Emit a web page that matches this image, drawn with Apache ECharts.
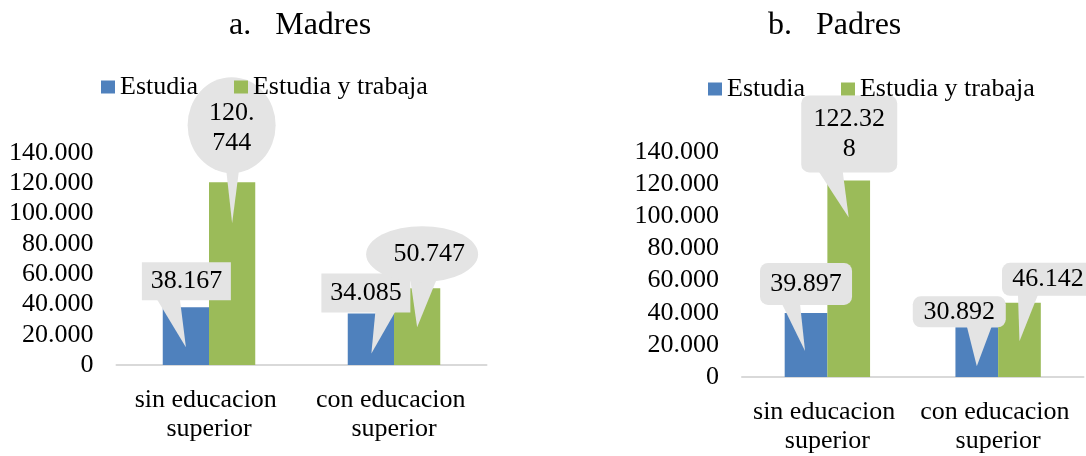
<!DOCTYPE html>
<html>
<head>
<meta charset="utf-8">
<script src="https://cdn.jsdelivr.net/npm/echarts@6/dist/echarts.min.js"></script>
<style>
  html, body { margin: 0; padding: 0; background: #fff; }
  #chart { width: 1086px; height: 456px; }
</style>
</head>
<body>
<div id="chart"></div>
<script>
var categories = ["sin educacion superior", "con educacion superior"];
var seriesNames = ["Estudia", "Estudia y trabaja"];
var madresEstudia = [38167, 34085];
var madresTrabaja = [120744, 50747];
var padresEstudia = [39897, 30892];
var padresTrabaja = [122328, 46142];
var yTicks = [0, 20000, 40000, 60000, 80000, 100000, 120000, 140000];

var FONT = "Liberation Serif";
var BLUE = "#4f81bd", GREEN = "#9bbb59", BUBBLE = "#e4e4e4";

// callout geometry, px relative to bar centre / bar top (cat0 s0, cat0 s1, cat1 s0, cat1 s1)
var madresCallouts = [
  { shape: "rect", dx: 0.5, dy: -26, w: 89, h: 38, b0: -29, b1: -6, tx: 0, ty: 40 },
  { shape: "ellipse", dx: -0.5, dy: -57, w: 88, h: 96, b0: -6, b1: 7, tx: 0, ty: 41, tdy: 3, tw: 55 },
  { shape: "rect", dx: -5, dy: -20.5, w: 89, h: 39, b0: 4.5, b1: 24.5, tx: 0.5, ty: 40 },
  { shape: "ellipse", dx: 5, dy: -34, w: 112, h: 56, b0: -7, b1: 20, tx: 0, ty: 39, tdx: 7 }
];
var padresCallouts = [
  { shape: "rect", r: 8, dx: 0, dy: -29, w: 92, h: 42, b0: -24, b1: -6, tx: -1, ty: 38 },
  { shape: "rect", r: 8, dx: 0.5, dy: -46.5, w: 96, h: 77, b0: -30, b1: -6, tx: 0, ty: 37, tw: 78 },
  { shape: "rect", r: 8, dx: -17.5, dy: -15.5, w: 93, h: 31, b0: -10, b1: 15, tx: 0, ty: 39 },
  { shape: "rect", r: 8, dx: 28.5, dy: -23.5, w: 92, h: 33, b0: -1.5, b1: 18.5, tx: 0, ty: 38.5 }
];

function fmt(v) {
  return String(v).replace(/\B(?=(\d{3})+(?!\d))/g, ".");
}

function calloutData(a, b) {
  var out = [];
  categories.forEach(function (c, i) {
    out.push([i, a[i], 0]);
    out.push([i, b[i], 1]);
  });
  return out;
}

function calloutRender(layouts) {
  return function (params, api) {
    var c = layouts[params.dataIndex];
    var s = api.value(2);
    var top = api.coord([api.value(0), api.value(1)]);
    var catW = api.size([1, 0])[0];
    // two bars of catW/4 each, side by side around the category centre
    var bx = top[0] + (s === 0 ? -catW / 8 : catW / 8);
    var by = top[1];
    var cx = bx + c.dx, cy = by + c.dy;
    var baseY = cy + c.h / 2 - (c.shape === "ellipse" ? 4 : 1);
    var body;
    if (c.shape === "ellipse") {
      body = {
        type: "circle", x: cx, y: cy, scaleX: c.w / c.h, scaleY: 1,
        shape: { cx: 0, cy: 0, r: c.h / 2 }, style: { fill: BUBBLE }
      };
    } else {
      body = {
        type: "rect",
        shape: { x: cx - c.w / 2, y: cy - c.h / 2, width: c.w, height: c.h, r: c.r || 0 },
        style: { fill: BUBBLE }
      };
    }
    return {
      type: "group",
      children: [
        {
          type: "polygon",
          shape: { points: [[bx + c.b0, baseY], [bx + c.b1, baseY], [bx + c.tx, by + c.ty]] },
          style: { fill: BUBBLE }
        },
        body,
        {
          type: "text",
          x: cx + (c.tdx || 0), y: cy + (c.tdy || 0),
          style: {
            text: fmt(api.value(1)), align: "center", verticalAlign: "middle",
            fontSize: 26, fontFamily: FONT, fill: "#000",
            width: c.tw, overflow: c.tw ? "breakAll" : "none", lineHeight: 30
          }
        }
      ]
    };
  };
}

function xAxisFor(idx) {
  return {
    type: "category", gridIndex: idx, data: categories,
    axisLine: { lineStyle: { color: "#d9d9d9", width: 2 } },
    axisTick: { show: false },
    axisLabel: {
      fontSize: 26, fontFamily: FONT, color: "#000", margin: 21, lineHeight: 29,
      width: 160, overflow: "break", interval: 0
    }
  };
}

function yAxisFor(idx) {
  return {
    type: "value", gridIndex: idx,
    min: yTicks[0], max: yTicks[yTicks.length - 1], interval: yTicks[1] - yTicks[0],
    axisLine: { show: false }, axisTick: { show: false }, splitLine: { show: false },
    axisLabel: { fontSize: 26, fontFamily: FONT, color: "#000", margin: 23, formatter: fmt }
  };
}

function barsFor(idx, a, b) {
  return [
    { name: seriesNames[0], type: "bar", xAxisIndex: idx, yAxisIndex: idx, data: a,
      itemStyle: { color: BLUE }, barGap: "0%", barCategoryGap: "50%" },
    { name: seriesNames[1], type: "bar", xAxisIndex: idx, yAxisIndex: idx, data: b,
      itemStyle: { color: GREEN }, barGap: "0%", barCategoryGap: "50%" }
  ];
}

var chart = echarts.init(document.getElementById("chart"));
var legendBase = {
  data: seriesNames, icon: "rect", itemWidth: 14, itemHeight: 13, itemGap: 36, padding: 0, z: 10,
  textStyle: { fontSize: 26, fontFamily: FONT, color: "#000" }
};
var option = {
  animation: false,
  title: [
    { text: "a.   Madres", left: 224, top: 5, textStyle: { fontSize: 32, fontWeight: "normal", fontFamily: FONT, color: "#000" } },
    { text: "b.   Padres", left: 763, top: 5, textStyle: { fontSize: 32, fontWeight: "normal", fontFamily: FONT, color: "#000" } }
  ],
  legend: [
    Object.assign({}, legendBase, { left: 101, top: 74 }),
    Object.assign({}, legendBase, { left: 708, top: 76 })
  ],
  grid: [
    { left: 116.5, width: 370, top: 153, height: 212 },
    { left: 742, width: 341.5, top: 152, height: 226 }
  ],
  xAxis: [xAxisFor(0), xAxisFor(1)],
  yAxis: [yAxisFor(0), yAxisFor(1)],
  series: barsFor(0, madresEstudia, madresTrabaja)
    .concat(barsFor(1, padresEstudia, padresTrabaja))
    .concat([
      { type: "custom", xAxisIndex: 0, yAxisIndex: 0, z: 3, silent: true,
        data: calloutData(madresEstudia, madresTrabaja), renderItem: calloutRender(madresCallouts) },
      { type: "custom", xAxisIndex: 1, yAxisIndex: 1, z: 3, silent: true,
        data: calloutData(padresEstudia, padresTrabaja), renderItem: calloutRender(padresCallouts) }
    ])
};
chart.setOption(option);
window.addEventListener("resize", chart.resize);
</script>
</body>
</html>
